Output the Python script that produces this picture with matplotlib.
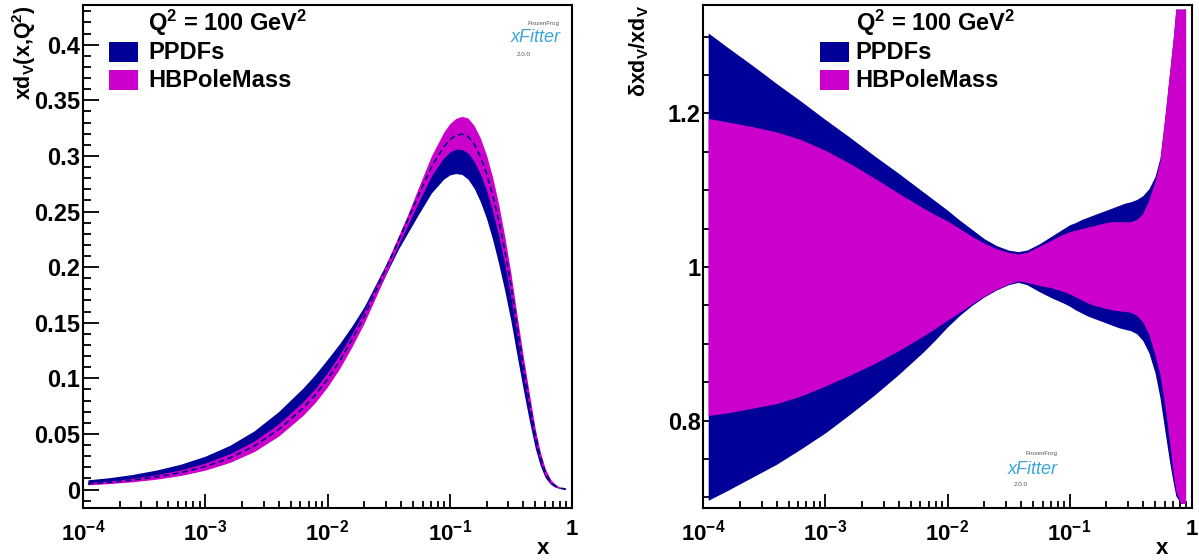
import numpy as np
import matplotlib
matplotlib.use("Agg")
import matplotlib.pyplot as plt
from matplotlib.ticker import FixedLocator, FuncFormatter, LogLocator, NullFormatter, MultipleLocator
from matplotlib.patches import Rectangle

# x grid (log10 x), shared by both panels
log_x = [-3.96, -3.8, -3.6, -3.4, -3.2, -3.0, -2.8, -2.6, -2.4, -2.2, -2.1, -2.0,
         -1.9, -1.8, -1.7, -1.6, -1.5, -1.42, -1.35, -1.25, -1.15, -1.05, -1.0,
         -0.95, -0.9, -0.85, -0.8, -0.75, -0.7, -0.65, -0.6, -0.55, -0.5, -0.45,
         -0.4, -0.35, -0.3, -0.26, -0.22, -0.18, -0.15, -0.13, -0.09, -0.05]

# central values x*d_V(x, Q^2)
hb_central = [0.00528, 0.00643, 0.00845, 0.01131, 0.01519, 0.02064, 0.02831, 0.03904,
              0.0539, 0.0733, 0.0851, 0.0992, 0.1157, 0.1348, 0.1555, 0.1794, 0.204,
              0.224, 0.241, 0.266, 0.290, 0.308, 0.3145, 0.3185, 0.3196, 0.3175, 0.3105,
              0.2995, 0.2845, 0.2655, 0.2425, 0.215, 0.184, 0.148, 0.113, 0.080, 0.049,
              0.030, 0.016, 0.008, 0.0045, 0.003, 0.0012, 0.0004]
ppdf_central = [0.00671, 0.00813, 0.01065, 0.01414, 0.01876, 0.02518, 0.03397, 0.04607,
                0.06252, 0.0832, 0.09531, 0.1091, 0.1238, 0.1402, 0.1586, 0.1808, 0.2030,
                0.2206, 0.2350, 0.2567, 0.2778, 0.2929, 0.2981, 0.3010, 0.3014, 0.2981,
                0.2903, 0.2785, 0.2632, 0.2437, 0.2207, 0.1946, 0.1656, 0.1325, 0.1006,
                0.0704, 0.0429, 0.0261, 0.0139, 0.0070, 0.0039, 0.0026, 0.00104, 0.00035]

# relative uncertainty bands (upper / lower edge divided by central)
ppdf_hi = [1.305, 1.286, 1.263, 1.239, 1.216, 1.192, 1.169, 1.145, 1.122, 1.098, 1.086,
           1.074, 1.061, 1.049, 1.037, 1.028, 1.022, 1.020, 1.022, 1.030, 1.040, 1.050,
           1.055, 1.058, 1.062, 1.065, 1.068, 1.071, 1.074, 1.077, 1.080, 1.083, 1.085,
           1.088, 1.093, 1.102, 1.118, 1.142, 1.195, 1.255, 1.300, 1.336, 1.336, 1.336]
ppdf_lo = [0.696, 0.709, 0.726, 0.743, 0.763, 0.784, 0.808, 0.833, 0.860, 0.889, 0.905,
           0.922, 0.937, 0.950, 0.961, 0.970, 0.977, 0.980, 0.977, 0.968, 0.960, 0.953,
           0.949, 0.944, 0.940, 0.936, 0.933, 0.930, 0.927, 0.924, 0.921, 0.919, 0.917,
           0.913, 0.904, 0.888, 0.862, 0.830, 0.787, 0.745, 0.718, 0.702, 0.692, 0.692]
hb_hi = [1.1935, 1.189, 1.183, 1.176, 1.166, 1.152, 1.135, 1.116, 1.096, 1.077, 1.068,
         1.060, 1.050, 1.040, 1.031, 1.024, 1.019, 1.017, 1.019, 1.027, 1.035, 1.043,
         1.046, 1.048, 1.050, 1.052, 1.054, 1.056, 1.058, 1.059, 1.059, 1.059, 1.059,
         1.062, 1.070, 1.088, 1.112, 1.138, 1.195, 1.255, 1.300, 1.336, 1.336, 1.336]
hb_lo = [0.8065, 0.810, 0.816, 0.822, 0.832, 0.845, 0.859, 0.874, 0.891, 0.910, 0.920,
         0.931, 0.941, 0.952, 0.962, 0.971, 0.978, 0.982, 0.980, 0.976, 0.973, 0.968,
         0.965, 0.961, 0.957, 0.953, 0.950, 0.948, 0.946, 0.944, 0.943, 0.942, 0.941,
         0.937, 0.928, 0.912, 0.885, 0.860, 0.820, 0.770, 0.730, 0.708, 0.692, 0.692]

labels = ["PPDFs", "HBPoleMass"]
NAVY = "#000099"
MAG = "#cc00cc"

plt.rcParams["font.family"] = "Liberation Sans"
plt.rcParams["font.weight"] = "bold"
plt.rcParams["mathtext.fontset"] = "custom"
plt.rcParams["mathtext.rm"] = "Liberation Sans:bold"
plt.rcParams["mathtext.it"] = "Liberation Sans:bold"
plt.rcParams["mathtext.bf"] = "Liberation Sans:bold"
plt.rcParams["mathtext.sf"] = "Liberation Sans"

W, H = 1199, 560
fig = plt.figure(figsize=(W / 100, H / 100), dpi=100)


def fx(px):
    return px / W


def fy(py):
    return 1 - py / H


ax1 = fig.add_axes([fx(83), fy(508), (572 - 83) / W, (508 - 4.7) / H])
ax2 = fig.add_axes([fx(703.3), fy(508), (1191.7 - 703.3) / W, (508 - 4.5) / H])

x = 10 ** np.array(log_x)
c_m = np.array(hb_central)
c_b = np.array(ppdf_central)

ax1.fill_between(x, c_b * np.array(ppdf_lo), c_b * np.array(ppdf_hi), color=NAVY, lw=0, zorder=3)
ax1.fill_between(x, c_m * np.array(hb_lo), c_m * np.array(hb_hi), color=MAG, lw=0, zorder=3)
ax1.plot(x, c_m, color="#000080", ls=(0, (3.5, 2.2)), lw=1.2, zorder=4)

ax2.fill_between(x, ppdf_lo, ppdf_hi, color=NAVY, lw=0, zorder=3)
ax2.fill_between(x, hb_lo, hb_hi, color=MAG, lw=0, zorder=3)


def ytick_fmt(v, p):
    return "0" if abs(v) < 1e-9 else "%g" % round(v, 4)


def xtick_fmt(v, p):
    if v >= 0.99:
        return "1"
    return r"$10^{%d}$" % round(np.log10(v))


def style(ax, ylim, major, minor):
    ax.set_xscale("log")
    ax.set_xlim(1e-4, 1)
    ax.set_ylim(*ylim)
    ax.xaxis.set_major_locator(FixedLocator([1e-4, 1e-3, 1e-2, 1e-1, 1]))
    ax.xaxis.set_major_formatter(FuncFormatter(xtick_fmt))
    ax.xaxis.set_minor_locator(LogLocator(base=10, subs=np.arange(2, 10), numticks=20))
    ax.xaxis.set_minor_formatter(NullFormatter())
    ax.yaxis.set_major_locator(MultipleLocator(major))
    ax.yaxis.set_minor_locator(MultipleLocator(minor))
    ax.yaxis.set_major_formatter(FuncFormatter(ytick_fmt))
    ax.tick_params(which="both", direction="in", top=False, right=False, width=1.3, color="black")
    ax.tick_params(axis="x", which="major", length=10, pad=8, labelsize=16)
    ax.tick_params(axis="x", which="minor", length=4.7)
    ax.tick_params(axis="y", which="major", length=11.5, pad=2, labelsize=17)
    ax.tick_params(axis="y", which="minor", length=5.8)
    for s in ax.spines.values():
        s.set_linewidth(1.5)


style(ax1, (-0.0166, 0.436), 0.05, 0.01)
style(ax2, (0.686, 1.342), 0.2, 0.05)

# axis titles
fig.text(fx(24), fy(5), r"xd$_{V}$(x,Q$^{2}$)", rotation=90, ha="center", va="top", fontsize=15.5)
fig.text(fx(639), fy(5), r"$\mathsf{\delta}$xd$_{V}$/xd$_{V}$", rotation=90, ha="center", va="top", fontsize=15.5)
fig.text(fx(549), fy(548), "x", ha="right", va="center", fontsize=16)
fig.text(fx(1168), fy(548), "x", ha="right", va="center", fontsize=16)

# legends
for box_x, text_x in [(109, 148), (820.4, 855.5)]:
    fig.text(fx(text_x), fy(31), r"Q$^{2}$ = 100 GeV$^{2}$", ha="left", va="baseline", fontsize=17)
    for (label, col, top, base) in [(labels[0], NAVY, 42, 59.3), (labels[1], MAG, 70, 87.3)]:
        fig.add_artist(Rectangle((fx(box_x), fy(top + 20)), 29 / W, 20 / H,
                                 transform=fig.transFigure, color=col, lw=0))
        fig.text(fx(text_x), fy(base), label, ha="left", va="baseline", fontsize=17)

# xFitter logos
for lx, ly in [(511, 38), (1008, 469)]:
    fig.text(fx(lx + 17), fy(ly - 15), "FrozenFrog", fontsize=4.5, color="#555555",
             fontweight="normal", ha="left", va="center")
    fig.text(fx(lx), fy(ly), "xFitter", fontsize=13, color="#3ba6dc", style="italic",
             fontweight="normal", ha="left", va="center")
    fig.text(fx(lx + 6), fy(ly + 16), "2.0.0", fontsize=4.5, color="#555555",
             fontweight="normal", ha="left", va="center")

fig.savefig("out.png", dpi=100)
